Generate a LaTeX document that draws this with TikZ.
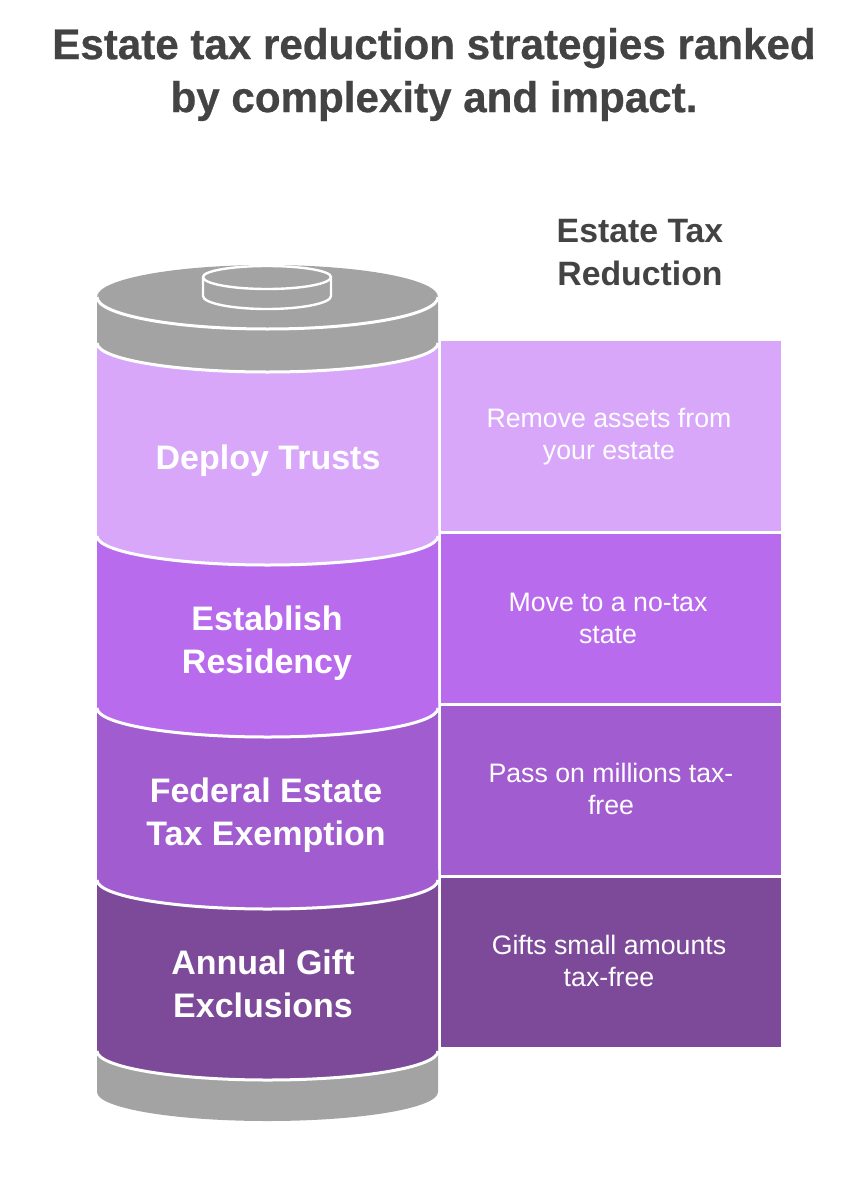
\documentclass[tikz,border=0pt]{standalone}
\usepackage{fontspec}
\setmainfont{Liberation Sans}
\newfontfamily\titlefont[FakeStretch=0.98,FakeBold=0.6]{Liberation Sans Bold}
\definecolor{lay1}{HTML}{D8A7FA}
\definecolor{lay2}{HTML}{B96BED}
\definecolor{lay3}{HTML}{A15CCF}
\definecolor{lay4}{HTML}{7D4A9A}
\definecolor{capgrey}{HTML}{A3A3A3}
\definecolor{ink}{HTML}{434343}
\tikzset{
  titletext/.style={align=center,text=ink,font=\fontsize{43}{53}\titlefont,inner sep=0pt},
  headtext/.style={align=center,text=ink,font=\fontsize{33.8}{43}\selectfont\bfseries,inner sep=0pt},
  layertext/.style={align=center,text=white,font=\fontsize{34}{43}\selectfont\bfseries,inner sep=0pt},
  desctext/.style={align=center,text=white,font=\fontsize{26.7}{32}\selectfont,inner sep=0pt},
  rim/.style={draw=white,line width=3pt},
}
\newcommand{\layer}[3]{% colour, side top y, side bottom y
  \fill[#1] (97,#2) -- (97,#3) arc[start angle=180,end angle=0,x radius=170.5,y radius=29] -- (438,#2) -- cycle;
}
\begin{document}
\begin{tikzpicture}[x=1pt,y=-1pt]
\useasboundingbox (0,0) rectangle (856,1180);
% bottom grey
\fill[capgrey] (97,1040) -- (97,1092) arc[start angle=180,end angle=0,x radius=170.5,y radius=29] -- (438,1040) -- cycle;
% layers, bottom first
\layer{lay4}{870}{1051}
\draw[rim] (97,1051) arc[start angle=180,end angle=0,x radius=170.5,y radius=29];
\layer{lay3}{700}{880}
\draw[rim] (97,880) arc[start angle=180,end angle=0,x radius=170.5,y radius=29];
\layer{lay2}{530}{708}
\draw[rim] (97,708) arc[start angle=180,end angle=0,x radius=170.5,y radius=29];
\layer{lay1}{340}{536}
\draw[rim] (97,536) arc[start angle=180,end angle=0,x radius=170.5,y radius=29];
% top grey band
\fill[capgrey] (97,297) -- (97,343) arc[start angle=180,end angle=0,x radius=170.5,y radius=29] -- (438,297) -- cycle;
\draw[rim] (97,343) arc[start angle=180,end angle=0,x radius=170.5,y radius=29];
\fill[capgrey] (267.5,297) ellipse[x radius=170.5,y radius=32];
\draw[rim] (97,297) arc[start angle=180,end angle=0,x radius=170.5,y radius=32];
% small cap
\draw[rim,fill=capgrey,line width=2.4pt] (203,277) arc[start angle=180,end angle=360,x radius=64,y radius=11] -- (331,296) arc[start angle=0,end angle=180,x radius=64,y radius=13] -- cycle;
\draw[rim,line width=2.4pt] (203,277) arc[start angle=180,end angle=0,x radius=64,y radius=12];
% right boxes
\fill[lay1] (441,341) rectangle (781,531);
\fill[lay2] (441,534) rectangle (781,703);
\fill[lay3] (441,706) rectangle (781,875);
\fill[lay4] (441,878) rectangle (781,1047);
% text
\node[titletext] (title) at (434,74.5) {Estate tax reduction strategies ranked\\by complexity and impact.};
\node[headtext] (head) at (640,253) {Estate Tax\\Reduction};
\node[layertext] (l1) at (268,461) {Deploy Trusts};
\node[layertext] (l2) at (267,643) {Establish\\Residency};
\node[layertext] (l3) at (266,815) {Federal Estate\\Tax Exemption};
\node[layertext] (l4) at (263,984) {Annual Gift\\Exclusions};
\node[desctext] (d1) at (609,437) {Remove assets from\\your estate};
\node[desctext] (d2) at (608,618) {Move to a no-tax\\state};
\node[desctext] (d3) at (611,789) {Pass on millions tax-\\free};
\node[desctext] (d4) at (609,961) {Gifts small amounts\\tax-free};
\end{tikzpicture}
\end{document}
